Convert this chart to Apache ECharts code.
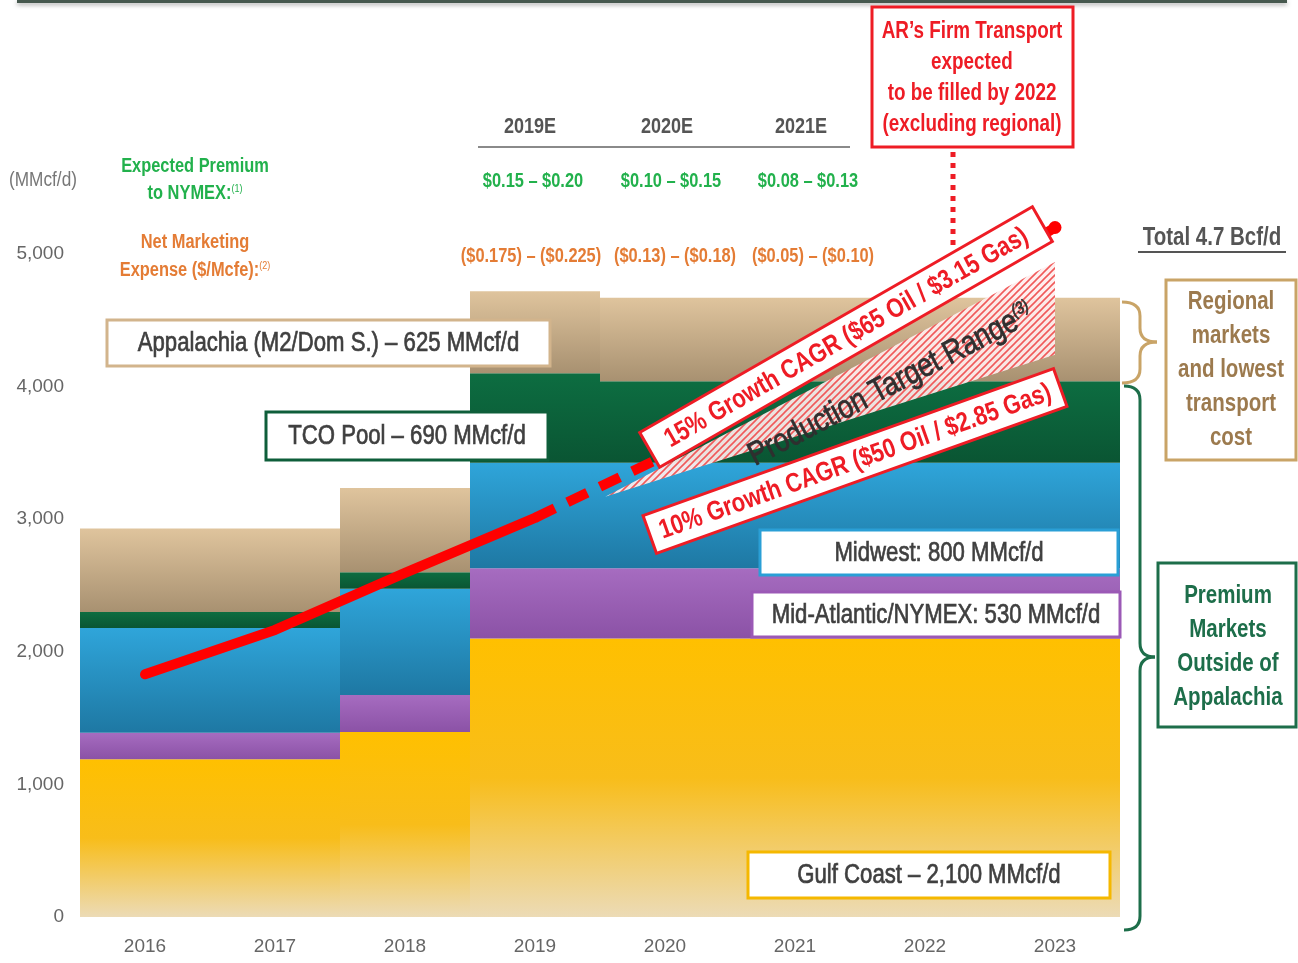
<!DOCTYPE html>
<html>
<head>
<meta charset="utf-8">
<title>AR Firm Transport Portfolio</title>
<script src="https://cdn.jsdelivr.net/npm/echarts@6/dist/echarts.min.js"></script>
<style>
	html, body { margin: 0; padding: 0; background: #fff; }
	#main { width: 1298px; height: 963px; }
</style>
</head>
<body>
<div id="main"></div>
<script>
// ---- data ----
var years       = ['2016','2017','2018','2019','2020','2021','2022','2023'];
var gulfCoast   = [1190, 1190, 1395, 2100, 2100, 2100, 2100, 2100];
var midAtlantic = [200, 200, 280, 530, 530, 530, 530, 530];
var midwest     = [790, 790, 800, 795, 795, 795, 795, 795];
var tcoPool     = [120, 120, 125, 675, 615, 615, 615, 615];
var appalachia  = [630, 630, 635, 620, 630, 630, 630, 630];
var production  = [1830, 2165, 2595, 3010, null, null, null, null];
var growth15    = [null, null, null, 3010, 3480, 4010, 4600, 5200];
var rangeYears  = [2019.54, 2023];
var rangeLow    = [3170, 4240];
var rangeHigh   = [3170, 4940];
var yTicks      = [0, 1000, 2000, 3000, 4000, 5000];

// Arial Narrow look: Liberation Sans squeezed to 82%
var FONT = '"Liberation Sans", Arial, sans-serif';
var SQ = 0.82;
var GREEN = '#22b14c', ORANGE = '#e47c35', RED = '#ee1c25', GREY = '#3f3f3f';

function grad(stops) {
	return new echarts.graphic.LinearGradient(0, 0, 0, 1, stops.map(function (c, i) {
		return { offset: i / (stops.length - 1), color: c };
	}));
}

// red hatch for the target range
var hatch = document.createElement('canvas');
hatch.width = 7; hatch.height = 7;
var hc = hatch.getContext('2d');
hc.fillStyle = 'rgba(255,238,238,0.92)';
hc.fillRect(0, 0, 7, 7);
hc.strokeStyle = '#f05a5a';
hc.lineWidth = 1.6;
hc.beginPath();
hc.moveTo(0, 7); hc.lineTo(7, 0);
hc.moveTo(-2, 2); hc.lineTo(2, -2);
hc.moveTo(5, 9); hc.lineTo(9, 5);
hc.stroke();

function txt(x, y, text, font, fill, rich) {
	var o = { type: 'text', x: x, y: y, z: 120, scaleX: SQ,
		style: { text: text, font: font + ' ' + FONT, fill: fill, align: 'center', verticalAlign: 'middle' } };
	if (rich) o.style.rich = rich;
	return o;
}
function boxLabel(x, y, w, h, text, border) {
	var t = txt(x + w / 2, y + h / 2 + 1, text, '27px', GREY);
	t.style.stroke = GREY;
	t.style.lineWidth = 0.7;
	return { type: 'group', z: 110, children: [
		{ type: 'rect', shape: { x: x, y: y, width: w, height: h }, style: { fill: '#fff', stroke: border, lineWidth: 3 }, z: 110 },
		t
	] };
}
function rotBox(cx, cy, deg, w, h, text) {
	return { type: 'group', x: cx, y: cy, rotation: deg * Math.PI / 180, z: 130, children: [
		{ type: 'rect', shape: { x: -w / 2, y: -h / 2, width: w, height: h }, style: { fill: '#fff', stroke: RED, lineWidth: 3 }, z: 130 },
		{ type: 'text', x: 0, y: 1, z: 131, scaleX: SQ,
			style: { text: text, font: 'bold 27px ' + FONT, fill: RED, align: 'center', verticalAlign: 'middle' } }
	] };
}
function seg(x1, y1, x2, y2, color) {
	return { type: 'line', z: 100, shape: { x1: x1, y1: y1, x2: x2, y2: y2 }, style: { stroke: color, lineWidth: 3 } };
}
function curve(x1, y1, cx, cy, x2, y2, color) {
	return { type: 'bezierCurve', z: 100, shape: { x1: x1, y1: y1, cpx1: cx, cpy1: cy, x2: x2, y2: y2 },
		style: { stroke: color, lineWidth: 3, fill: 'none' } };
}
// a curly brace opening to the left, tip at (xt, ym)
function brace(xe, xs, xt, y0, ym, y1, color) {
	var r = 14;
	return [
		curve(xe, y0, xs, y0, xs, y0 + r, color),
		seg(xs, y0 + r, xs, ym - r, color),
		curve(xs, ym - r, xs, ym, xt, ym, color),
		curve(xt, ym, xs, ym, xs, ym + r, color),
		seg(xs, ym + r, xs, y1 - r, color),
		curve(xs, y1 - r, xs, y1, xe, y1, color)
	];
}

var sup = { sup: { fontSize: 11, verticalAlign: 'top', padding: [0, 0, 8, 0] } };

var graphics = [
	{ type: 'rect', shape: { x: 17, y: 0, width: 1270, height: 3 }, style: { fill: '#46584e', shadowBlur: 4, shadowColor: 'rgba(0,0,0,0.35)', shadowOffsetY: 2 }, z: 100 },
	txt(43, 180, '(MMcf/d)', '21px', '#777'),
	txt(195, 166, 'Expected Premium', 'bold 20px', GREEN),
	txt(195, 193, 'to NYMEX:{sup|(1)}', 'bold 20px', GREEN, sup),
	txt(195, 242, 'Net Marketing', 'bold 20px', ORANGE),
	txt(195, 270, 'Expense ($/Mcfe):{sup|(2)}', 'bold 20px', ORANGE, sup),

	txt(530, 127, '2019E', 'bold 22px', '#555'),
	txt(667, 127, '2020E', 'bold 22px', '#555'),
	txt(801, 127, '2021E', 'bold 22px', '#555'),
	{ type: 'line', shape: { x1: 478, y1: 147, x2: 850, y2: 147 }, style: { stroke: '#8a8a8a', lineWidth: 2 }, z: 100 },
	txt(533, 181, '$0.15 \u2013 $0.20', 'bold 20px', GREEN),
	txt(671, 181, '$0.10 \u2013 $0.15', 'bold 20px', GREEN),
	txt(808, 181, '$0.08 \u2013 $0.13', 'bold 20px', GREEN),
	txt(531, 256, '($0.175) \u2013 ($0.225)', 'bold 20px', ORANGE),
	txt(675, 256, '($0.13) \u2013 ($0.18)', 'bold 20px', ORANGE),
	txt(813, 256, '($0.05) \u2013 ($0.10)', 'bold 20px', ORANGE),

	// firm transport call-out
	{ type: 'rect', shape: { x: 872, y: 7, width: 201, height: 140 }, style: { fill: '#fff', stroke: RED, lineWidth: 3 }, z: 110 },
	txt(972, 32, 'AR\u2019s Firm Transport', 'bold 23px', RED),
	txt(972, 63, 'expected', 'bold 23px', RED),
	txt(972, 94, 'to be filled by 2022', 'bold 23px', RED),
	txt(972, 125, '(excluding regional)', 'bold 23px', RED),
	{ type: 'line', shape: { x1: 953, y1: 152, x2: 953, y2: 250 }, style: { stroke: RED, lineWidth: 5, lineDash: [5, 6] }, z: 100 },

	txt(1212, 238, 'Total 4.7 Bcf/d', 'bold 25px', '#555'),
	{ type: 'line', shape: { x1: 1138, y1: 252, x2: 1286, y2: 252 }, style: { stroke: '#555', lineWidth: 2 }, z: 100 },

	// right side call-outs
	{ type: 'rect', shape: { x: 1166, y: 280, width: 130, height: 180 }, style: { fill: '#fff', stroke: '#c9a467', lineWidth: 3 }, z: 110 },
	txt(1231, 302, 'Regional', 'bold 25px', '#9c7a4e'),
	txt(1231, 336, 'markets', 'bold 25px', '#9c7a4e'),
	txt(1231, 370, 'and lowest', 'bold 25px', '#9c7a4e'),
	txt(1231, 404, 'transport', 'bold 25px', '#9c7a4e'),
	txt(1231, 438, 'cost', 'bold 25px', '#9c7a4e'),
	{ type: 'rect', shape: { x: 1158, y: 563, width: 138, height: 164 }, style: { fill: '#fff', stroke: '#1d6e4a', lineWidth: 3 }, z: 110 },
	txt(1228, 596, 'Premium', 'bold 25px', '#1d6e4a'),
	txt(1228, 630, 'Markets', 'bold 25px', '#1d6e4a'),
	txt(1228, 664, 'Outside of', 'bold 25px', '#1d6e4a'),
	txt(1228, 698, 'Appalachia', 'bold 25px', '#1d6e4a'),

	// segment labels
	boxLabel(107, 320, 443, 46, 'Appalachia (M2/Dom S.) \u2013 625 MMcf/d', '#d2b48c'),
	boxLabel(266, 412, 282, 48, 'TCO Pool \u2013 690 MMcf/d', '#0e5e3a'),
	boxLabel(760, 530, 358, 45, 'Midwest: 800 MMcf/d', '#2a9fd6'),
	boxLabel(752, 592, 368, 45, 'Mid-Atlantic/NYMEX: 530 MMcf/d', '#9b59b6'),
	boxLabel(748, 852, 362, 46, 'Gulf Coast \u2013 2,100 MMcf/d', '#f5b800'),

	// growth cases
	rotBox(846, 337, 29.9, 453, 40, '15% Growth CAGR ($65 Oil / $3.15 Gas)'),
	rotBox(855, 461, 19.7, 436, 40, '10% Growth CAGR ($50 Oil / $2.85 Gas)'),
	{ type: 'text', x: 891, y: 385, rotation: 27.5 * Math.PI / 180, z: 125, scaleX: SQ,
		style: { text: 'Production Target Range{sup|(3)}', font: '33px ' + FONT, fill: '#2f2f2f', stroke: '#2f2f2f', lineWidth: 0.8,
			align: 'center', verticalAlign: 'middle',
			rich: { sup: { fontSize: 17, fontStyle: 'italic', verticalAlign: 'top', padding: [0, 0, 16, 0] } } } }
].concat(
	brace(1122, 1140, 1157, 302, 342, 383, '#c9a467'),
	brace(1124, 1140, 1155, 386, 657, 930, '#1d6e4a')
);

function barSeries(name, data, colors) {
	return { name: name, type: 'bar', stack: 'supply', data: data, barCategoryGap: '0%', barGap: '0%',
		itemStyle: { color: grad(colors) }, emphasis: { disabled: true }, z: 2 };
}

var chart = echarts.init(document.getElementById('main'));
chart.setOption({
	backgroundColor: '#fff',
	animation: false,
	grid: { left: 80, right: 178, top: 254, bottom: 46 },
	xAxis: {
		type: 'category', data: years,
		axisLine: { show: false }, axisTick: { show: false },
		axisLabel: { margin: 20, color: '#666', fontSize: 19, fontFamily: FONT }
	},
	yAxis: {
		type: 'value', min: 0, max: 5000, interval: 1000,
		splitLine: { show: false }, axisLine: { show: false }, axisTick: { show: false },
		axisLabel: { margin: 16, color: '#666', fontSize: 19, fontFamily: FONT,
			formatter: function (v) { return yTicks.indexOf(v) >= 0 ? v.toLocaleString('en-US') : ''; } }
	},
	series: [
		barSeries('Gulf Coast', gulfCoast, ['#ffc000', '#f8bd1a', '#ecdbb6']),
		barSeries('Mid-Atlantic/NYMEX', midAtlantic, ['#a66cc0', '#8b52a6']),
		barSeries('Midwest', midwest, ['#2fa5da', '#1e78a3']),
		barSeries('TCO Pool', tcoPool, ['#0d6d41', '#0a5533']),
		barSeries('Appalachia', appalachia, ['#dfc49d', '#a89171']),
		{
			name: 'Target Range', type: 'custom', z: 4, clip: false,
			data: [[3, rangeLow[0]]],
			renderItem: function (params, api) {
				function at(yr, v) {
					var i = Math.floor(yr - 2016), f = yr - 2016 - i;
					var a = api.coord([i, v]), b = api.coord([Math.min(i + 1, years.length - 1), v]);
					return [a[0] + (b[0] - a[0]) * f, a[1]];
				}
				var pts = [];
				for (var i = 0; i < rangeYears.length; i++) pts.push(at(rangeYears[i], rangeHigh[i]));
				for (var j = rangeYears.length - 1; j >= 0; j--) pts.push(at(rangeYears[j], rangeLow[j]));
				return { type: 'polygon', shape: { points: pts }, style: { fill: { image: hatch, repeat: 'repeat' }, stroke: null } };
			}
		},
		{
			name: 'Production', type: 'line', data: production, symbol: 'none', z: 6, clip: false,
			lineStyle: { color: '#ff0000', width: 10, cap: 'round', join: 'round' }
		},
		{
			name: '15% Growth', type: 'line', z: 5, clip: false, showSymbol: true, symbol: 'none',
			data: growth15.map(function (v, i) {
				return i === growth15.length - 1 ? { value: v, symbol: 'circle', symbolSize: 13 } : v;
			}),
			itemStyle: { color: '#ff0000' },
			lineStyle: { color: '#ff0000', width: 10, type: [22, 14] }
		}
	],
	graphic: graphics
});
</script>
</body>
</html>
